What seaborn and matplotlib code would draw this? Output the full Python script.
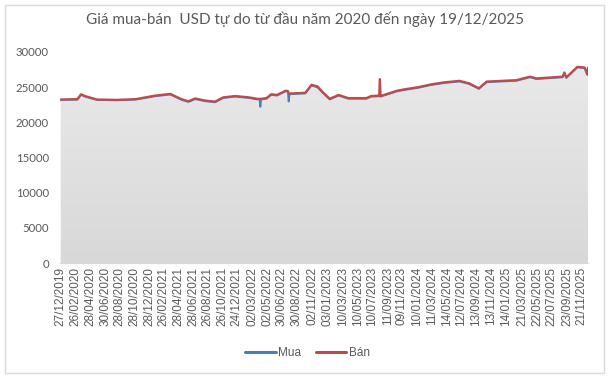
"""
Giá mua-bán USD tự do 2020 - 2025
"""

import numpy as np
import pandas as pd
import seaborn as sns
import matplotlib.pyplot as plt
import matplotlib.dates as mdates
from matplotlib.patches import Rectangle

# dates (spikes are given as short 3-point bursts)
dates = [
    "27/12/2019", "05/03/2020", "20/03/2020", "05/04/2020", "25/05/2020",
    "15/08/2020", "01/11/2020", "20/01/2021", "25/03/2021", "10/05/2021",
    "08/06/2021", "06/07/2021", "16/08/2021", "26/09/2021", "30/10/2021",
    "18/12/2021", "15/02/2022", "20/03/2022", "30/03/2022", "02/04/2022",
    "05/04/2022", "27/04/2022", "17/05/2022", "10/06/2022", "15/07/2022",
    "25/07/2022", "28/07/2022", "01/08/2022", "05/10/2022", "31/10/2022",
    "25/11/2022", "15/12/2022", "14/01/2023", "20/02/2023", "01/04/2023",
    "15/06/2023", "05/07/2023", "07/08/2023", "10/08/2023", "13/08/2023",
    "20/10/2023", "20/11/2023", "15/01/2024", "09/03/2024", "05/05/2024",
    "05/07/2024", "14/08/2024", "23/09/2024", "25/10/2024", "25/02/2025",
    "23/04/2025", "19/05/2025", "05/09/2025", "12/09/2025", "20/09/2025",
    "05/11/2025", "05/12/2025", "16/12/2025", "19/12/2025",
]
ban = [
    23250, 23300, 24000, 23750, 23250,
    23200, 23300, 23800, 24050, 23300,
    23000, 23400, 23100, 22950, 23550,
    23750, 23550, 23350, 23350, 23350,
    23350, 23450, 24000, 23900, 24500,
    24450, 24200, 24100, 24200, 25350,
    25100, 24350, 23350, 23900, 23450,
    23450, 23750, 23800, 26150, 23750,
    24500, 24700, 25000, 25400, 25700,
    25900, 25550, 24850, 25800, 26000,
    26500, 26250, 26500, 27100, 26400,
    27900, 27800, 26850, 27800,
]
mua = [
    23180, 23220, 23900, 23650, 23180,
    23130, 23220, 23700, 23950, 23200,
    22900, 23300, 23000, 22850, 23450,
    23650, 23450, 23250, 23250, 22200,
    23250, 23350, 23900, 23800, 24400,
    24350, 22950, 24000, 24100, 25250,
    24950, 24250, 23250, 23800, 23350,
    23350, 23650, 23700, 23700, 23650,
    24400, 24600, 24900, 25300, 25600,
    25800, 25450, 24750, 25700, 25900,
    26400, 26150, 26400, 27000, 26300,
    27800, 27700, 26750, 26850,
]

tick_labels = [
    "27/12/2019", "26/02/2020", "28/04/2020", "30/06/2020", "28/08/2020",
    "28/10/2020", "28/12/2020", "26/02/2021", "28/04/2021", "28/06/2021",
    "26/08/2021", "26/10/2021", "24/12/2021", "02/03/2022", "02/05/2022",
    "30/06/2022", "30/08/2022", "02/11/2022", "03/01/2023", "10/03/2023",
    "10/05/2023", "10/07/2023", "11/09/2023", "09/11/2023", "10/01/2024",
    "11/03/2024", "14/05/2024", "12/07/2024", "13/09/2024", "13/11/2024",
    "14/01/2025", "21/03/2025", "22/05/2025", "22/07/2025", "23/09/2025",
    "21/11/2025",
]

df = pd.DataFrame({
    "date": pd.to_datetime(dates, format="%d/%m/%Y"),
    "Mua": mua,
    "Bán": ban,
})
ticks = pd.to_datetime(tick_labels, format="%d/%m/%Y")

sns.set_style("white")
plt.rcParams["font.family"] = ["Liberation Sans", "DejaVu Sans"]
grey = "#595959"

fig = plt.figure(figsize=(6.09, 3.78), dpi=100)
ax = fig.add_axes([60 / 609, 1 - 263 / 378, 528 / 609, 211 / 378])

# grey gradient area under the lines
poly = ax.fill_between(df["date"], 0, df["Mua"], color="none", lw=0)
x0 = mdates.date2num(pd.Timestamp("2019-12-24"))
x1 = mdates.date2num(df["date"].iloc[-1])
grad = np.linspace(0, 1, 256).reshape(-1, 1)
img = ax.imshow(grad, extent=[x0, x1, 0, 28000], aspect="auto",
                cmap=plt.matplotlib.colors.LinearSegmentedColormap.from_list(
                    "g", ["#e9e9e9", "#d8d8d8"]),
                origin="upper", zorder=1)
img.set_clip_path(poly.get_paths()[0], transform=ax.transData)

sns.lineplot(data=df, x="date", y="Mua", ax=ax, color="#4a7ebb", lw=1.3,
             label="Mua", zorder=3)
sns.lineplot(data=df, x="date", y="Bán", ax=ax, color="#be4b48", lw=1.6,
             label="Bán", zorder=4)

ax.set_xlim(x0, x1)
ax.set_ylim(0, 30000)
ax.set_yticks(range(0, 30001, 5000))
ax.set_xticks(ticks)
ax.set_xticklabels(tick_labels, rotation=90, fontsize=8.5, color=grey)
ax.tick_params(axis="y", labelsize=8.2, colors=grey, length=0, pad=8)
ax.tick_params(axis="x", length=0, pad=3)
for lab in ax.get_yticklabels():
    lab.set_family(["Lato", "DejaVu Sans"])
ax.set_xlabel("")
ax.set_ylabel("")
for side in ["top", "right", "left"]:
    ax.spines[side].set_visible(False)
ax.spines["bottom"].set_color("#d9d9d9")

ax.get_legend().remove()
handles, labels = ax.get_legend_handles_labels()
leg = fig.legend(handles, labels, loc="center", bbox_to_anchor=(0.505, 0.067),
                 ncol=2, frameon=False, fontsize=8.5, handlelength=2.6,
                 handletextpad=0.2, columnspacing=1.2)
for t in leg.get_texts():
    t.set_color(grey)
for h in leg.legend_handles:
    h.set_linewidth(2.2)

fig.text(0.5, 0.948, "Giá mua-bán  USD tự do từ đầu năm 2020 đến ngày 19/12/2025",
         ha="center", va="center", fontsize=11, color=grey,
         family=["Lato", "DejaVu Sans"])

fig.patches.append(Rectangle((0.008, 0.012), 0.984, 0.976, transform=fig.transFigure,
                             fill=False, edgecolor="#d9d9d9", lw=1))

fig.savefig("out.png", dpi=100)
plt.close(fig)
